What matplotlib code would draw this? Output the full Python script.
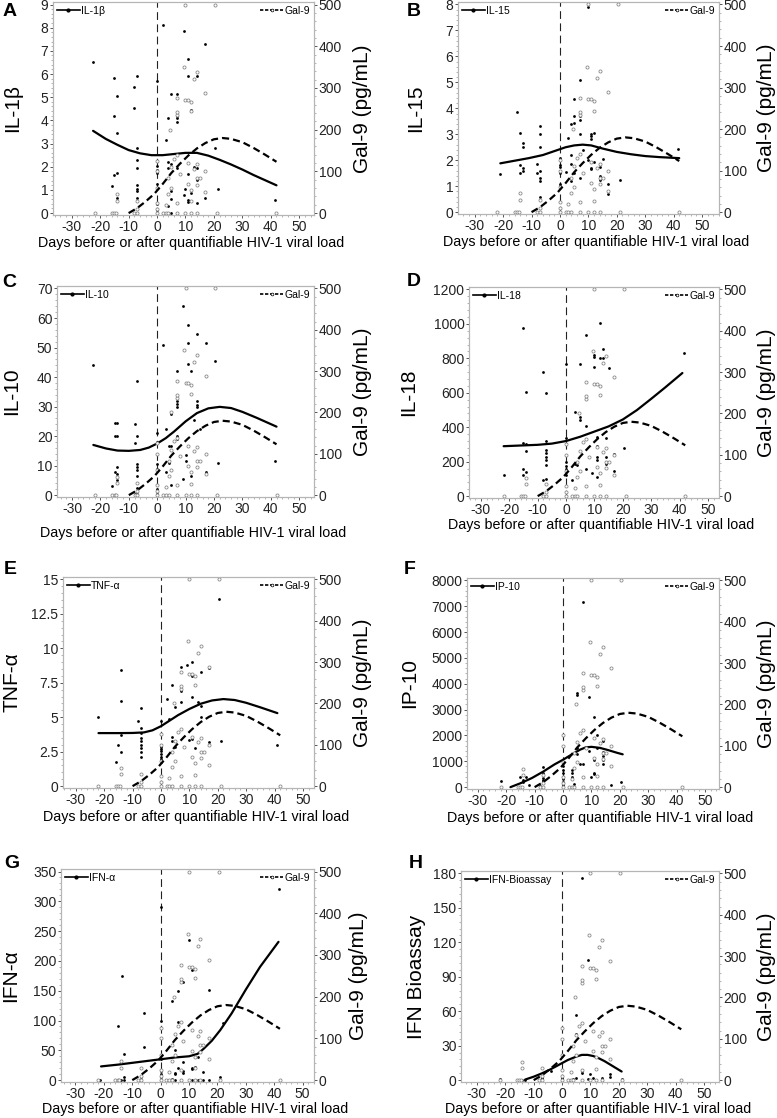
import numpy as np
import matplotlib
matplotlib.use('Agg')
import matplotlib.pyplot as plt
from matplotlib.lines import Line2D
from matplotlib.ticker import MultipleLocator, AutoMinorLocator, FixedLocator

plt.rcParams['font.family'] = ['Liberation Sans', 'DejaVu Sans']
plt.rcParams['axes.unicode_minus'] = False

XLABEL = 'Days before or after quantifiable HIV-1 viral load'
GAL_LABEL = 'Gal-9 (pg/mL)'

# --- Gal-9 (shared in every panel, right axis) ---
gal_x = [-22, -16, -15, -14.5, -14, -14, -8, -7, -7, -7, 0, 0, 0, 0, 0, 0, 2, 3, 3, 4,
         4, 4, 4.7, 5, 5, 6, 7, 7, 7, 7, 7, 7, 8, 9.5, 10, 10, 10, 11, 11, 11,
         12, 12, 12, 12, 12, 13, 13, 14, 14, 14, 14, 14, 15, 17, 17, 17, 21, 20.5, 42]
gal_y = [0, 0, 0, 0, 45, 30, 0, 0, 30, 10, 0, 10, 25, 60, 100, 125, 0, 0, 20, 0,
         47, 83, 200, 110, 60, 130, 0, 25, 139, 234, 242, 275, 94, 350, 0, 272, 500, 120, 272, 70,
         0, 28, 56, 244, 267, 322, 106, 0, 67, 83, 117, 339, 83, 100, 289, 50, 0, 500, 0]
gal_fit_x = [-10, -7, -4, -1, 2, 5, 8, 11, 14, 17, 20, 23, 26, 30, 34, 38, 42]
gal_fit_y = [0, 12, 28, 46, 70, 96, 118, 138, 155, 168, 177, 180, 178, 170, 156, 140, 123]

# --- A: IL-1b ---
il1b_x = [-22.5, -16, -15, -15, -15, -14, -14, -14, -14, -15, -8, -8, -7, -7, -7, -7, -7, -7, -7,
          -7, -7, 0, 0, 0, 0, 0, 0, 0, 2, 3, 4, 4, 4, 4, 5, 5, 5, 5, 5, 7, 7, 7, 7, 7, 7,
          9.5, 9.5, 10, 11, 11, 11, 11, 11, 12, 12, 12, 13, 14, 14, 14, 14, 17, 17, 20.5, 21.5, 41.5]
il1b_y = [6.5, 1.15, 5.85, 4.2, 1.65, 5.05, 3.45, 1.75, 0.65, 0, 5.45, 4.55, 5.9, 2.8, 2.3, 1.95, 1.2,
          1.05, 0.65, 0.95, 0, 5.7, 2.05, 1.85, 1.75, 1.25, 0.4, 0.15, 8.1, 3.15, 4.1, 2.2, 1.95, 0.3,
          5.15, 2.1, 0.95, 0.6, 0, 5.15, 4.2, 4.1, 3.95, 1.95, 0, 7.85, 0.8, 1.05, 6.65, 5.9, 1.7,
          0.55, 0.5, 4.45, 4.4, 0.85, 2.0, 5.9, 1.95, 1.45, 0.45, 7.3, 0.65, 2.8, 1.05, 0.55]
il1b_fit_x = [-22.5, -18, -14, -10, -6, -2, 2, 6, 10, 14, 18, 22, 26, 30, 34, 38, 42]
il1b_fit_y = [3.55, 3.2, 2.95, 2.72, 2.58, 2.5, 2.5, 2.55, 2.6, 2.6, 2.48, 2.3, 2.1, 1.88, 1.64, 1.42, 1.2]

# --- B: IL-15 ---
il15_x = [-21, -15, -14, -14, -14, -13, -13, -13, -13, -8, -8, -7, -7, -7, -7, -7, -7, -7,
          0, 0, 0, 0, 0, 0, 0, 2, 3, 4, 4, 4, 4, 5, 5, 5, 5, 7, 7, 7, 7, 7, 7, 8,
          10, 10, 11, 11, 11, 11, 11, 12, 12, 14, 14, 14, 14, 15, 17, 17, 21, 41.5]
il15_y = [1.45, 3.85, 3.05, 1.8, 1.5, 2.65, 2.5, 1.7, 1.6, 1.85, 1.5, 3.3, 3.0, 2.5, 1.6, 1.3, 1.2, 0.6,
          2.1, 1.8, 1.75, 1.6, 1.5, 1.1, 1.0, 1.55, 2.85, 3.4, 2.2, 1.85, 1.2, 4.35, 3.7, 3.45, 1.5,
          5.1, 3.7, 3.55, 3.0, 2.25, 1.3, 2.4, 7.9, 2.0, 3.0, 2.95, 2.8, 1.7, 1.65, 3.05, 1.95,
          1.85, 1.75, 1.4, 1.25, 2.05, 1.1, 0.7, 1.25, 2.45]
il15_fit_x = [-21, -16, -11, -6, -2, 2, 5, 8, 11, 15, 20, 25, 30, 35, 42]
il15_fit_y = [1.88, 1.98, 2.08, 2.2, 2.35, 2.5, 2.57, 2.6, 2.57, 2.45, 2.32, 2.23, 2.16, 2.12, 2.08]

# --- C: IL-10 ---
il10_x = [-22.5, -16, -15, -15, -15, -14, -14, -14, -14, -14, -8, -8, -7, -7, -7, -7, -7, -7, -7, -7,
          -8, 0, 0, 0, 0, 0, 0, 2, 3, 3, 4, 4, 5, 5, 5, 7, 7, 7, 7, 7, 7, 9, 9, 10, 10,
          11, 11, 11, 11, 12, 12, 13, 14, 14, 14, 14, 15, 17, 17, 20.5, 21.5, 41.5]
il10_y = [44, 3, 24.5, 20, 8, 24.5, 20, 9.5, 7, 5, 24, 17.5, 38.5, 20, 10.5, 9.5, 8.5, 6.5, 2.5, 0.5,
          0.5, 21, 18, 10.5, 9, 2, 0.5, 51, 22.5, 8, 11, 16.5, 16.5, 27.5, 3.5, 42, 30, 31, 32, 20, 19,
          64, 5.5, 13.5, 11.5, 57.5, 51.5, 44.5, 16.5, 42, 6.5, 25.5, 54.5, 32, 30.5, 30, 22.5,
          51.5, 8, 45.5, 11, 11.5]
il10_fit_x = [-22.5, -18, -14, -10, -6, -3, 0, 3, 6, 10, 14, 18, 22, 26, 30, 35, 42]
il10_fit_y = [17, 15.8, 15.1, 15.0, 15.3, 16.1, 17.5, 19.3, 21.6, 25.0, 27.8, 29.4, 29.9, 29.5, 28.2, 26.2, 23.2]

# --- D: IL-18 ---
il18_x = [-22, -15, -15, -15, -15, -14, -14, -14, -14, -8, -8, -7, -7, -7, -7, -7, -7, -7, -7,
          0, 0, 0, 0, 0, 0, 0, 2, 3, 3, 4, 5, 5, 5, 7, 7, 7, 9, 10, 10, 10, 11, 11, 11, 11, 11,
          12, 12, 13, 13, 14, 14, 14, 14, 15, 17, 17, 20.5, 41.5]
il18_y = [120, 975, 310, 160, 125, 605, 300, 260, 140, 720, 95, 600, 320, 270, 250, 230, 210, 180, 100,
          765, 340, 300, 200, 175, 160, 120, 95, 490, 185, 180, 765, 460, 440, 935, 410, 160, 135,
          820, 810, 750, 345, 290, 225, 210, 110, 1005, 805, 855, 800, 340, 225, 200, 185, 745,
          245, 145, 280, 830]
il18_fit_x = [-22, -16, -10, -5, 0, 5, 10, 15, 20, 25, 30, 35, 41]
il18_fit_y = [290, 294, 298, 305, 320, 345, 375, 405, 445, 500, 565, 632, 715]

# --- E: TNF-a ---
tnf_x = [-22, -16, -15, -14, -14, -14, -14, -7, -8, -7, -7, -7, -7, -7, -7, -7, -7,
         0, 0, 0, 0, 0, 0, 0, 0, 0, 2, 3, 4, 4, 4, 5, 5, 7, 7, 7, 7, 9, 10,
         11, 11, 11, 11, 12, 13, 14, 14, 14, 17, 17, 20.5, 21, 41]
tnf_y = [5.05, 1.75, 3.0, 8.45, 6.15, 3.7, 2.45, 5.65, 4.75, 4.2, 3.85, 3.5, 3.25, 3.0, 2.75, 2.45, 2.15,
         4.7, 3.0, 2.85, 2.7, 2.55, 2.35, 2.15, 1.95, 1.75, 6.3, 4.9, 7.35, 3.6, 3.3, 5.75, 2.85,
         8.65, 7.05, 6.9, 6.1, 8.8, 3.35, 9.0, 8.0, 6.5, 3.4, 2.75, 6.1, 8.3, 5.8, 5.05, 8.6, 3.2,
         13.6, 3.25, 2.95]
tnf_fit_x = [-22, -15, -10, -6, -3, 0, 3, 6, 10, 14, 18, 22, 26, 30, 35, 41]
tnf_fit_y = [3.85, 3.85, 3.86, 3.9, 4.05, 4.35, 4.75, 5.15, 5.6, 5.98, 6.22, 6.32, 6.25, 6.05, 5.72, 5.3]

# --- F: IP-10 ---
ip10_x = [-22, -15, -14, -14, -13, -12, -8, -7, -7, -7, -7, -7, 0, 0, 0, 0, 0, 0, 0,
          3, 3, 3, 4, 5, 5, 5, 5, 6, 7, 7, 7, 9, 9, 10, 11, 11, 11, 11, 12, 12,
          14, 14, 14, 14, 14, 17, 20.5]
ip10_y = [220, 380, 280, 200, 380, 100, 60, 790, 550, 350, 280, 220, 800, 680, 560, 400, 300, 200, 80,
          680, 550, 400, 120, 3650, 3550, 1500, 1300, 900, 7150, 2200, 880, 3500, 1400, 380,
          2700, 1050, 550, 500, 2000, 1500, 1800, 1350, 1200, 1050, 900, 100, 200]
ip10_fit_x = [-18.5, -15, -11, -7, -3, 0, 3, 6, 8, 10, 13, 16, 19, 21]
ip10_fit_y = [0, 150, 350, 600, 880, 1060, 1260, 1450, 1540, 1560, 1520, 1430, 1330, 1270]

# --- G: IFN-a ---
ifna_x = [-21.5, -15, -14, -13.5, -13, -13, -13, -6, -6, -7, -7, 0, 0, 0, 0, 0, 0, 0, 2,
          4, 4, 5, 5, 5, 5, 6, 6, 6, 7, 8, 8, 8, 8, 10, 11, 11, 11, 11, 12, 13, 13, 14,
          15, 15, 17, 17, 21, 22, 41.5]
ifna_y = [0, 90, 0, 175, 44, 5, 0, 55, 113, 5, 0, 290, 100, 35, 15, 10, 5, 0, 0,
          133, 2, 50, 12, 10, 0, 150, 98, 20, 0, 165, 30, 15, 12, 235, 185, 20, 18, 0, 22, 38, 0, 0,
          13, 0, 152, 0, 5, 96, 320]
ifna_fit_x = [-21, -15, -10, -5, 0, 5, 10, 13, 15, 18, 21, 25, 30, 35, 41.5]
ifna_fit_y = [23, 26, 29, 32, 35, 38, 40, 44, 52, 66, 84, 112, 152, 190, 232]

# --- H: IFN Bioassay ---
ifnb_x = [-22, -15, -14, -13, -8, -7, -7, -4, 0, 0, 0, 3, 4, 5, 5, 5, 7, 7, 7, 9, 9, 10, 11,
          12, 14, 14, 17, 17, 21]
ifnb_y = [1, 0, 0, 0.5, 0, 1, 2, 8, 2, 1, 0, 0, 1, 57, 40, 2, 176, 8, 6, 105, 1, 5, 2,
          0, 2, 0, 5, 3, 1]
ifnb_fit_x = [-13, -10, -7, -4, -1, 2, 5, 7, 9, 11, 13, 15, 17, 19, 21]
ifnb_fit_y = [0.5, 3, 6, 9.5, 13.5, 17.5, 20.5, 22, 22, 21, 19, 16.5, 13.5, 10.5, 7.5]

# panel specs: letter, axis label, legend label, data, y max, y step
PANELS = [
    ('A', 'IL-1β', 'IL-1β', il1b_x, il1b_y, il1b_fit_x, il1b_fit_y, 9, 1),
    ('B', 'IL-15', 'IL-15', il15_x, il15_y, il15_fit_x, il15_fit_y, 8, 1),
    ('C', 'IL-10', 'IL-10', il10_x, il10_y, il10_fit_x, il10_fit_y, 70, 10),
    ('D', 'IL-18', 'IL-18', il18_x, il18_y, il18_fit_x, il18_fit_y, 1200, 200),
    ('E', 'TNF-α', 'TNF-α', tnf_x, tnf_y, tnf_fit_x, tnf_fit_y, 15, 2.5),
    ('F', 'IP-10', 'IP-10', ip10_x, ip10_y, ip10_fit_x, ip10_fit_y, 8000, 1000),
    ('G', 'IFN-α', 'IFN-α', ifna_x, ifna_y, ifna_fit_x, ifna_fit_y, 350, 50),
    ('H', 'IFN Bioassay', 'IFN-Bioassay', ifnb_x, ifnb_y, ifnb_fit_x, ifnb_fit_y, 180, 30),
]

# layout in pixels: left, right, top, bottom, xmin, xmax, ylabel x, gal label x, xlabel y-gap, letter x, letter y
W, H = 777, 1118
LAYOUT = [
    (53, 314, 2, 215, -36.6, 55.2, 13, 362, 28, 10, 12),
    (458, 719, 2, 214, -35.9, 56.0, 416, 766, 28, 414, 12),
    (57, 314, 286, 497, -35.3, 55.2, 12, 362, 36, 9, 283),
    (469, 719, 287, 498, -34.2, 53.9, 409, 766, 27, 414, 281),
    (63, 314, 577, 788, -34.5, 53.9, 12, 362, 29, 10, 570),
    (467, 719, 578, 789, -33.8, 54.9, 410, 766, 29, 410, 570),
    (61, 314, 869, 1082, -35.1, 54.0, 11, 359, 27, 12, 863),
    (461, 719, 871, 1082, -35.6, 55.3, 417, 766, 27, 416, 863),
]

SPINE = '#b5b5b5'
TICK = '#555555'


def _style(ax):
    for s in ax.spines.values():
        s.set_edgecolor(SPINE)
        s.set_linewidth(0.8)
    ax.tick_params(which='major', length=2.5, width=0.7, color=TICK, labelsize=10, pad=0.8,
                   labelcolor='#222222')
    ax.tick_params(which='minor', length=1.5, width=0.5, color='#999999')


fig = plt.figure(figsize=(W / 100, H / 100), dpi=100)

for spec, lay in zip(PANELS, LAYOUT):
    letter, ylab, leglab, xs, ys, fx, fy, ymax, ystep = spec
    l, r, t, b, xmin, xmax, ylx, glx, xgap, lx, ly = lay
    ax = fig.add_axes([l / W, 1 - b / H, (r - l) / W, (b - t) / H])
    ax2 = ax.twinx()

    ax.set_xlim(xmin, xmax)
    ax.xaxis.set_major_locator(FixedLocator(np.arange(-30, 51, 10)))
    ax.xaxis.set_minor_locator(AutoMinorLocator(5))
    yt = np.arange(0, ymax + ystep / 2, ystep)
    ax.set_yticks(yt)
    ax.set_yticklabels(['%g' % v for v in yt])
    ax.yaxis.set_minor_locator(AutoMinorLocator(5))
    ax.set_ylim(-0.009 * ymax, 1.012 * ymax)
    ax2.yaxis.set_major_locator(MultipleLocator(100))
    ax2.yaxis.set_minor_locator(AutoMinorLocator(5))
    ax2.set_ylim(-0.009 * 500, 1.012 * 500)
    _style(ax)
    _style(ax2)

    # zero line
    ax.axvline(0, color='#222222', lw=0.8, ls=(0, (7, 4)), zorder=1)

    # points
    ax2.scatter(gal_x, gal_y, s=5, facecolors='white', edgecolors='#8a8a8a', linewidths=0.6, zorder=2)
    ax.scatter(xs, ys, s=4, color='black', linewidths=0, zorder=3)

    # smoothed curves
    ax.plot(fx, fy, color='black', lw=1.6, zorder=4, solid_capstyle='round')
    ax2.plot(gal_fit_x, gal_fit_y, color='black', lw=1.6, ls=(0, (3.2, 1.8)), zorder=4)

    # labels
    ax.set_ylabel(ylab, fontsize=15, va='center')
    ax.yaxis.set_label_coords((ylx - l) / (r - l), 0.5)
    ax2.set_ylabel(GAL_LABEL, fontsize=15, va='center')
    ax2.yaxis.set_label_coords((glx - l) / (r - l), 0.5)
    ax.set_xlabel(XLABEL, fontsize=10.3, va='center')
    ax.xaxis.set_label_coords(0.53, -xgap / (b - t))

    # legends
    h1 = Line2D([], [], color='black', lw=1.2, marker='o', ms=2)
    h2 = Line2D([], [], color='black', lw=1.2, ls=(0, (2, 1)), marker='o', ms=2,
                markerfacecolor='white', markeredgecolor='black', markeredgewidth=0.5)
    leg = ax2.legend([h1], [leglab], loc='upper left', frameon=False, fontsize=7.5,
                     handlelength=2.2, handletextpad=0.15, borderaxespad=0.15, borderpad=0.2)
    ax2.add_artist(leg)
    ax2.legend([h2], ['Gal-9'], loc='upper right', frameon=False, fontsize=7.5,
               handlelength=2.2, handletextpad=0.15, borderaxespad=0.15, borderpad=0.2)

    fig.text(lx / W, 1 - ly / H, letter, fontsize=14, fontweight='bold',
             ha='center', va='center')

fig.savefig('out.png', dpi=100)
